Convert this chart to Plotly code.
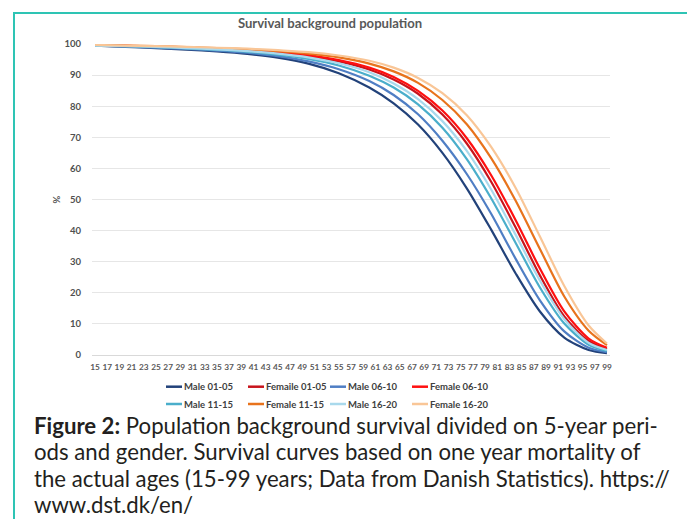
import plotly.graph_objects as go

# ---------------- data ----------------
ages = [15, 20, 25, 30, 35, 40, 45, 50, 55, 60, 64, 68, 72, 76, 80, 84, 88, 92, 96, 99]

male_01_05 = [99.5, 99.1, 98.7, 98.2, 97.6, 96.8, 95.6, 93.7, 90.6, 86.0, 80.9, 74.1, 65.0, 53.6, 40.3, 26.3, 14.0, 5.6, 1.6, 0.6]
male_06_10 = [99.5, 99.2, 98.8, 98.4, 97.9, 97.2, 96.1, 94.4, 91.9, 88.1, 83.6, 77.4, 68.9, 58.2, 45.4, 31.0, 17.6, 7.6, 2.3, 0.9]
male_11_15 = [99.5, 99.3, 99.0, 98.6, 98.1, 97.5, 96.6, 95.2, 93.1, 89.8, 86.0, 80.6, 73.1, 63.0, 50.4, 36.1, 21.7, 10.1, 3.3, 1.3]
male_16_20 = [99.5, 99.3, 99.1, 98.7, 98.3, 97.7, 96.9, 95.7, 93.8, 90.9, 87.3, 82.3, 75.2, 65.6, 53.2, 38.7, 23.9, 11.5, 3.9, 1.6]
female_01_05 = [99.6, 99.4, 99.1, 98.8, 98.4, 97.9, 97.2, 96.1, 94.4, 91.8, 88.6, 84.0, 77.3, 68.0, 55.7, 41.1, 25.6, 12.4, 4.5, 1.9]
female_06_10 = [99.6, 99.4, 99.2, 98.9, 98.5, 98.1, 97.4, 96.4, 94.8, 92.4, 89.4, 84.9, 78.6, 69.7, 57.8, 43.4, 27.8, 14.0, 5.3, 2.3]
female_11_15 = [99.7, 99.5, 99.3, 99.0, 98.7, 98.3, 97.7, 96.9, 95.7, 93.7, 91.2, 87.5, 82.0, 74.2, 63.3, 49.7, 34.1, 18.8, 7.8, 3.2]
female_16_20 = [99.7, 99.5, 99.3, 99.1, 98.8, 98.5, 98.0, 97.4, 96.3, 94.6, 92.4, 89.1, 84.2, 77.1, 66.9, 53.8, 38.1, 22.2, 9.5, 3.7]

tick_ages = [15, 17, 19, 21, 23, 25, 27, 29, 31, 33, 35, 37, 39, 41, 43, 45, 47, 49, 51, 53, 55,
             57, 59, 61, 63, 65, 67, 69, 71, 73, 75, 77, 79, 81, 83, 85, 87, 89, 91, 93, 95, 97, 99]
tick_labels = [str(a) for a in tick_ages]

# legend order: row 1 then row 2, four columns each (as in the reference)
series_names = ["Male 01-05", "Femaile 01-05", "Male 06-10", "Female 06-10",
                "Male 11-15", "Female 11-15", "Male 16-20", "Female 16-20"]
series_values = [male_01_05, female_01_05, male_06_10, female_06_10,
                 male_11_15, female_11_15, male_16_20, female_16_20]
series_colors = ["#22427a", "#c8141c", "#4f7ec4", "#ff1010",
                 "#4aaecb", "#e8731c", "#a9d9ec", "#f9c697"]

caption_lines = [
    "<b>Figure 2:</b> Population background survival divided on 5-year peri-",
    "ods and gender. Survival curves based on one year mortality of",
    "the actual ages (15-99 years; Data from Danish Statistics). https://",
    "www.dst.dk/en/",
]

FONT = "Lato"
GRAY = "#595959"

# The page body has an 8px margin, so the figure is drawn at (8, 8).
OFF = 8
FIG_W, FIG_H = 695 - OFF, 519 - OFF

# plot-area geometry in window pixels
L, R, T, B = 92, 610, 44, 355
W, H = R - L, B - T


def px(xpix):
    return (xpix - L) / W


def py(ypix):
    return (B - ypix) / H


fig = go.Figure()
for name, vals, col in zip(series_names, series_values, series_colors):
    fig.add_trace(go.Scatter(
        x=ages, y=vals, name=name, mode="lines", showlegend=False,
        line=dict(color=col, width=2.2, shape="spline", smoothing=0.8),
    ))

# ---- legend key (two rows of four), drawn as swatch + label ----
legend_font = dict(family=FONT, size=9.5, color="#404040", weight="bold")
col_x = [166, 248, 330, 412]
row_y = [386.7, 404]
shapes = [dict(type="rect", xref="paper", yref="paper",
               x0=px(14), x1=px(693), y0=py(540), y1=py(13),
               line=dict(color="#2ec4b4", width=2), fillcolor="rgba(0,0,0,0)", layer="below")]
annotations = []
for i, (name, col) in enumerate(zip(series_names, series_colors)):
    x0 = col_x[i % 4]
    yc = row_y[i // 4]
    shapes.append(dict(type="line", xref="paper", yref="paper",
                       x0=px(x0), x1=px(x0 + 16), y0=py(yc), y1=py(yc),
                       line=dict(color=col, width=2.5)))
    annotations.append(dict(xref="paper", yref="paper", x=px(x0 + 15.5), y=py(yc),
                            xanchor="left", yanchor="middle", showarrow=False,
                            font=legend_font, text=name))

caption_y = [425, 451.5, 478, 504.5]
for txt, yc in zip(caption_lines, caption_y):
    annotations.append(dict(
        xref="paper", yref="paper", x=px(32), y=py(yc), xanchor="left", yanchor="middle",
        align="left", showarrow=False,
        font=dict(family=FONT, size=22.2, color="#231f20"), text=txt))

fig.update_layout(
    width=FIG_W, height=FIG_H,
    margin=dict(l=L - OFF, r=695 - R, t=T - OFF, b=519 - B),
    paper_bgcolor="white", plot_bgcolor="white",
    font=dict(family=FONT, color=GRAY),
    showlegend=False,
    title=dict(text="Survival background population", x=(330 - OFF) / FIG_W,
               y=1 - (23 - OFF) / FIG_H, xanchor="center", yanchor="middle",
               font=dict(family=FONT, size=13.1, color=GRAY, weight="bold")),
    xaxis=dict(range=[14.5, 99.5], tickvals=tick_ages, ticktext=tick_labels,
               tickangle=0, showgrid=False, zeroline=False, showline=True,
               linecolor="#d9d9d9", linewidth=1, ticks="", ticklabelstandoff=4,
               tickfont=dict(family=FONT, size=8.3, color=GRAY, weight="bold")),
    yaxis=dict(range=[0, 100], dtick=10, showgrid=True, gridcolor="#e6e6e6",
               gridwidth=1, zeroline=False, showline=False, ticks="",
               ticklabelstandoff=10,
               tickfont=dict(family=FONT, size=9.5, color="#505050", weight="bold"),
               title=dict(text="%", standoff=2,
                          font=dict(family=FONT, size=9.5, color=GRAY, weight="bold"))),
    shapes=shapes,
    annotations=annotations,
)

fig.write_html("out.html")
